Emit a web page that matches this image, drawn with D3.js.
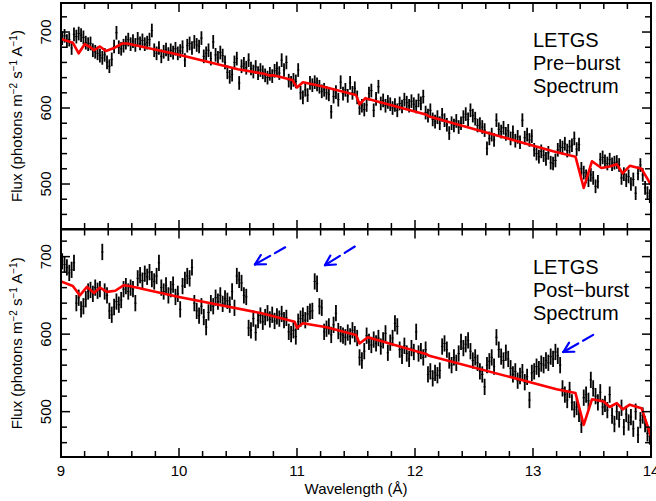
<!DOCTYPE html>
<html><head><meta charset="utf-8">
<script src="https://cdn.jsdelivr.net/npm/d3@7"></script>
<style>
html,body{margin:0;padding:0;background:#fff;}
svg{display:block;font-family:"Liberation Sans",Arial,Helvetica,sans-serif;}
</style></head>
<body><div id="chart"></div>
<script>
// ---- Data ----
const binStart = 9.01, binWidth = 0.02;
const preFlux = [
692,695,688,690,679,697,694,698,696,693,
686,684,685,676,674,672,669,666,670,660,
655,664,681,699,680,678,682,686,690,684,
688,683,691,685,689,684,686,690,702,676,
672,679,668,674,677,671,676,673,678,672,
675,680,663,682,685,679,687,683,681,692,
668,672,676,665,687,670,666,673,669,660,
647,641,644,660,665,633,655,658,653,663,
652,648,654,646,650,647,643,640,645,642,
649,652,646,663,650,660,636,633,637,635,
650,620,614,624,617,633,630,634,631,628,
622,624,620,618,595,615,621,611,634,619,
624,616,633,620,626,614,600,603,598,604,
619,623,597,612,628,606,610,603,608,605,
600,604,597,606,602,611,607,603,609,605,
602,610,606,615,594,590,597,585,582,588,
580,591,584,578,567,580,577,583,575,580,
588,592,585,597,590,586,577,579,575,571,
547,560,565,558,584,572,569,574,566,570,
560,568,557,562,555,584,561,565,558,563,
545,540,536,543,538,533,541,528,527,531,
545,550,548,553,544,549,551,560,546,552,
520,515,510,505,512,508,497,503,532,535,
530,527,532,526,528,529,525,508,513,505,
510,500,506,488,514,525,512,495,488,484];
const postFlux = [
694,690,686,679,683,692,640,647,632,636,
645,655,657,652,660,656,658,706,655,650,
630,625,635,642,638,644,658,662,655,660,
658,640,672,676,669,678,674,680,671,668,
675,692,660,655,663,650,658,664,648,652,
632,662,670,675,672,686,640,630,624,636,
622,609,628,640,636,647,642,650,639,646,
643,638,655,634,675,670,666,650,648,608,
605,620,602,618,624,616,622,627,619,625,
617,623,620,626,618,621,603,600,605,597,
616,620,624,618,626,629,630,668,665,636,
634,603,607,610,599,612,627,604,600,598,
596,602,597,605,600,595,570,566,578,598,
590,586,593,588,595,584,592,601,576,589,
595,614,610,580,572,585,575,568,582,577,
603,575,578,570,580,548,552,543,550,547,
553,584,588,580,566,560,570,563,575,590,
582,587,592,578,566,570,563,552,548,532,
560,565,570,558,596,580,571,566,576,568,
556,548,552,540,546,551,538,545,515,550,
552,558,555,562,560,566,563,571,568,577,
572,560,530,522,515,528,512,503,506,497,
483,518,522,514,541,530,520,512,525,506,
510,502,522,495,484,500,490,505,480,497,
486,493,478,500,470,489,495,484,472,468];
const preErr = 9, postErr = 10.5;

const preModelWave = [9.0,9.1,9.15,9.2,9.25,9.28,9.33,9.38,9.45,9.52,9.56,10.0,10.5,10.72,10.76,10.8,10.96,11.0,11.05,11.2,11.5,11.53,11.58,12.1,12.12,13.17,13.36,13.43,13.5,13.58,13.65,13.71,13.76,13.82,13.92,14.0];
const preModelFlux = [691,686,672,684,680,676,681,675,679,685,685,670,651,645,643,643,637,627,634,629,617,605,613,591,589,543,536,495,530,521,523,526,514,524,520,499];
const postModelWave = [9.0,9.1,9.16,9.22,9.28,9.33,9.39,9.46,9.53,9.58,10.0,10.7,10.75,10.98,11.0,11.05,11.25,11.5,11.53,11.6,12.1,12.12,13.2,13.36,13.43,13.5,13.6,13.65,13.71,13.76,13.82,13.92,14.0];
const postModelFlux = [668,662,650,661,653,660,654.5,656,663,662,648,627,625,616,608,614,609,599,588,596,574,572,529,524,483,516,513,506,511,503,509,504.5,468];

const xTicks = [9,10,11,12,13,14];
const yTicks = [500,600,700];
const panelLabels = [["LETGS","Pre\u2212burst","Spectrum"],["LETGS","Post\u2212burst","Spectrum"]];
// arrows in the post-burst panel: [tipWave, tipFlux, tailWave, tailFlux]
const arrows = [[10.644,690,10.90,712],[11.237,689,11.49,713],[13.257,577,13.51,599]];

// ---- Layout ----
const W = 656, H = 501;
const svg = d3.select("#chart").append("svg").attr("width", W).attr("height", H);
const x = d3.scaleLinear().domain([9,14]).range([61,651]);

const panels = [
  {flux: preFlux, err: preErr, mw: preModelWave, mf: preModelFlux, y: d3.scaleLinear().domain([440.8,738.2]).range([229,3]), top:3, bottom:229, label: panelLabels[0], lab:[46.7,69.7,92.5]},
  {flux: postFlux, err: postErr, mw: postModelWave, mf: postModelFlux, y: d3.scaleLinear().domain([441.5,735]).range([457,229.5]), top:229.5, bottom:457, label: panelLabels[1], lab:[274.3,297,319.5]}
];

panels.forEach((p, i) => {
  const y = p.y;
  const clipId = "clip" + i;
  svg.append("clipPath").attr("id", clipId).append("rect")
    .attr("x", 61).attr("y", p.top).attr("width", 590).attr("height", p.bottom - p.top);
  const g = svg.append("g").attr("clip-path", `url(#${clipId})`);
  const pts = p.flux.map((v, k) => ({w: binStart + binWidth * k, v}));
  // error bars
  g.selectAll("line.eb").data(pts).join("line").attr("class","eb")
    .attr("x1", d => x(d.w)).attr("x2", d => x(d.w))
    .attr("y1", d => y(d.v - p.err)).attr("y2", d => y(d.v + p.err))
    .attr("stroke", "#000").attr("stroke-width", 1.8);
  g.selectAll("line.ex").data(pts).join("line").attr("class","ex")
    .attr("x1", d => x(d.w - binWidth/2)).attr("x2", d => x(d.w + binWidth/2))
    .attr("y1", d => y(d.v)).attr("y2", d => y(d.v))
    .attr("stroke", "#000").attr("stroke-width", 1);
  // model
  const line = d3.line().x(d => x(d[0])).y(d => y(d[1]));
  g.append("path").datum(p.mw.map((w, k) => [w, p.mf[k]]))
    .attr("d", line).attr("fill", "none").attr("stroke", "#ff0000").attr("stroke-width", 2.6)
    .attr("stroke-linejoin", "round");

  // ticks (inward) on all sides
  const ax = svg.append("g").attr("stroke", "#000").attr("stroke-width", 1.5);
  const xMinor = d3.range(9, 14.001, 0.2).map(v => +v.toFixed(2));
  xMinor.forEach(v => {
    const major = Math.abs(v - Math.round(v)) < 1e-6;
    const len = major ? 9 : 6;
    ax.append("line").attr("x1", x(v)).attr("x2", x(v)).attr("y1", p.bottom).attr("y2", p.bottom - len);
    ax.append("line").attr("x1", x(v)).attr("x2", x(v)).attr("y1", p.top).attr("y2", p.top + len);
  });
  const yMinor = d3.range(460, 740, 20).filter(v => y(v) > p.top + 1 && y(v) < p.bottom - 1);
  yMinor.forEach(v => {
    const major = v % 100 === 0;
    const len = major ? 9 : 6;
    ax.append("line").attr("x1", 61).attr("x2", 61 + len).attr("y1", y(v)).attr("y2", y(v));
    ax.append("line").attr("x1", 651).attr("x2", 651 - len).attr("y1", y(v)).attr("y2", y(v));
  });
  // frame
  svg.append("rect").attr("x", 61).attr("y", p.top).attr("width", 590).attr("height", p.bottom - p.top)
    .attr("fill", "none").attr("stroke", "#000").attr("stroke-width", 2);

  // y tick labels (rotated)
  yTicks.forEach(v => {
    svg.append("text").attr("transform", `translate(50.5,${y(v)}) rotate(-90)`)
      .attr("text-anchor", "middle").attr("font-size", 15).attr("fill", "#000").text(v);
  });
  // y title
  const yt = svg.append("text").attr("transform", `translate(22,${(p.top + p.bottom) / 2}) rotate(-90)`)
    .attr("text-anchor", "middle").attr("font-size", 15).attr("fill", "#000");
  yt.append("tspan").text("Flux (photons m");
  yt.append("tspan").attr("baseline-shift", "super").attr("font-size", 10).text("\u22122");
  yt.append("tspan").text(" s");
  yt.append("tspan").attr("baseline-shift", "super").attr("font-size", 10).text("\u22121");
  yt.append("tspan").text(" A");
  yt.append("tspan").attr("baseline-shift", "super").attr("font-size", 10).text("\u22121");
  yt.append("tspan").text(")");

  // panel label
  p.label.forEach((t, k) => {
    svg.append("text").attr("x", 533).attr("y", p.lab[k]).attr("font-size", 20).attr("fill", "#000").text(t);
  });
});

// x tick labels on bottom panel
xTicks.forEach(v => {
  svg.append("text").attr("x", x(v)).attr("y", 475.5).attr("text-anchor", "middle")
    .attr("font-size", 15).attr("fill", "#000").text(v);
});
svg.append("text").attr("x", (x(9) + x(14)) / 2).attr("y", 493.5).attr("text-anchor", "middle")
  .attr("font-size", 15).attr("fill", "#000").text("Wavelength (\u00C5)");

// arrows
const yb = panels[1].y;
const ag = svg.append("g").attr("stroke", "#0000ff").attr("stroke-width", 2.2).attr("fill", "none").attr("stroke-linecap", "round");
arrows.forEach(a => {
  const tx = x(a[0]), ty = yb(a[1]), sx = x(a[2]), sy = yb(a[3]);
  const dx = sx - tx, dy = sy - ty, L = Math.hypot(dx, dy), ux = dx / L, uy = dy / L;
  ag.append("line").attr("x1", tx).attr("y1", ty).attr("x2", tx + ux * L * 0.5).attr("y2", ty + uy * L * 0.5);
  ag.append("line").attr("x1", tx + ux * L * 0.66).attr("y1", ty + uy * L * 0.66).attr("x2", sx).attr("y2", sy);
  const hl = 11, ang = 0.5;
  [ang, -ang].forEach(s => {
    const c = Math.cos(s), sn = Math.sin(s);
    const hx = ux * c - uy * sn, hy = ux * sn + uy * c;
    ag.append("line").attr("x1", tx).attr("y1", ty).attr("x2", tx + hx * hl).attr("y2", ty + hy * hl);
  });
});
</script></body></html>
